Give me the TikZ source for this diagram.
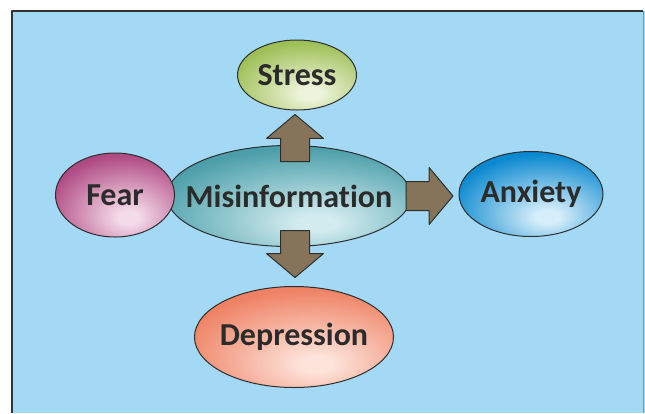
\documentclass[tikz,border=0pt]{standalone}
\usepackage{fontspec}
\setmainfont{Carlito}[RawFeature=-liga]
\usetikzlibrary{shapes.geometric,shapes.arrows}
\definecolor{bgblue}{HTML}{A3D9F5}
\definecolor{framegray}{HTML}{333333}
\definecolor{edgegray}{HTML}{2E2E2E}
\definecolor{txtgray}{HTML}{2B2B2B}
\definecolor{arrowbrown}{HTML}{85745A}
\definecolor{stressout}{HTML}{9DBF55}\definecolor{stressin}{HTML}{EEF4DC}
\definecolor{misout}{HTML}{4C9FAA}\definecolor{misin}{HTML}{D2ECEF}
\definecolor{fearout}{HTML}{B04A83}\definecolor{fearin}{HTML}{F5DCEA}
\definecolor{anxout}{HTML}{0A88D0}\definecolor{anxin}{HTML}{D6EEFA}
\definecolor{depout}{HTML}{EF8264}\definecolor{depin}{HTML}{FDE3DA}
\colorlet{glowin}{white}\colorlet{glowout}{black}
\pgfdeclareradialshading[glowin,glowout]{glossy}{\pgfpoint{6bp}{-14bp}}{%
  color(0bp)=(glowin); color(4bp)=(glowin); color(33bp)=(glowout); color(100bp)=(glowout)}
\begin{document}
\begin{tikzpicture}[x=1pt,y=-1pt,line join=round]
\tikzset{bubble/.style 2 args={ellipse,draw=edgegray,line width=1pt,inner xsep=-20pt,inner ysep=0pt,
    /utils/exec={\colorlet{glowin}{#1}\colorlet{glowout}{#2}},shading=glossy,
    font=\bfseries\fontsize{32}{34}\selectfont,text=txtgray},
  fatarrow/.style={single arrow,draw=edgegray,fill=arrowbrown,line width=1pt,inner xsep=0pt,inner ysep=14pt,
    single arrow head extend=14pt,single arrow tip angle=100,minimum height=47pt,anchor=tail}}
\useasboundingbox (0,0) rectangle (645,413);
% frame
\fill[bgblue] (12,11) rectangle (645,413);
\draw[framegray,line width=2pt] (12,413)--(12,11)--(643,11);
\draw[framegray!55,line width=0.6pt] (643,11)--(643,413);
% bubbles
\node[bubble={misin}{misout},minimum width=244pt,minimum height=101pt] (misinfo) at (289,196) {Misinformation};
\node[bubble={fearin}{fearout},minimum width=119pt,minimum height=84pt] (fear) at (115,195) {Fear};
\node[bubble={stressin}{stressout},minimum width=119pt,minimum height=70pt] (stress) at (297,75) {Stress};
\node[bubble={anxin}{anxout},minimum width=144pt,minimum height=85pt] (anxiety) at (531,194) {Anxiety};
\node[bubble={depin}{depout},minimum width=199pt,minimum height=101pt] (depression) at (294,337) {Depression};
% arrows
\node[fatarrow,rotate=90] (upArrow) at ([xshift=6pt,yshift=-17pt]misinfo.north) {};
\node[fatarrow,rotate=-90] (downArrow) at ([xshift=6pt,yshift=17pt]misinfo.south) {};
\node[fatarrow] (rightArrow) at ([xshift=-6pt]misinfo.east) {};
\end{tikzpicture}
\end{document}
